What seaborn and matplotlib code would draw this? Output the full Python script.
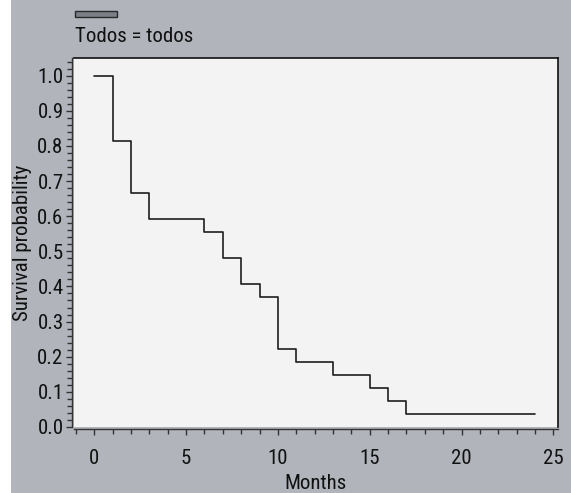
import matplotlib
matplotlib.use('Agg')
import matplotlib.pyplot as plt
import matplotlib.font_manager as fm
import seaborn as sns
import pandas as pd
from matplotlib.patches import Rectangle
from matplotlib.ticker import MultipleLocator

# Kaplan-Meier estimate
months = [0, 1, 2, 3, 6, 7, 8, 9, 10, 11, 13, 15, 16, 17, 24]
survival = [1.0, 0.815, 0.667, 0.593, 0.556, 0.481, 0.407, 0.370,
            0.222, 0.185, 0.148, 0.111, 0.074, 0.037, 0.037]
group_label = 'Todos = todos'
x_ticks = [0, 5, 10, 15, 20, 25]
y_ticks = [0.0, 0.1, 0.2, 0.3, 0.4, 0.5, 0.6, 0.7, 0.8, 0.9, 1.0]

sns.set_theme(style='ticks')

# the reference uses a narrow sans; take a condensed face if one is installed
narrow = None
for want in ['Liberation Sans Narrow', 'Roboto Condensed', 'Open Sans Condensed',
             'Noto Sans', 'DejaVu Sans', 'Roboto', 'Open Sans']:
    for f in fm.fontManager.ttflist:
        if f.name != want or f.style != 'normal' or f.weight not in (400, 'normal', 'regular'):
            continue
        if 'Narrow' in f.name or 'Condensed' in f.name or f.stretch in ('condensed', 'semi-condensed'):
            narrow = f
            break
    if narrow:
        break

if narrow:
    plt.rcParams['font.family'] = [narrow.name, 'DejaVu Sans']
    plt.rcParams['font.stretch'] = narrow.stretch
    fs = 15
else:
    plt.rcParams['font.family'] = ['Liberation Sans', 'DejaVu Sans']
    fs = 12.5

bg = '#b1b4bb'
km_df = pd.DataFrame({'Months': months, 'Survival probability': survival})

fig = plt.figure(figsize=(5.71, 4.93), dpi=100, facecolor=bg)
ax = fig.add_axes([74 / 571, 66 / 493, 484 / 571, 369 / 493])
ax.set_facecolor('#f3f3f3')

sns.lineplot(data=km_df, x='Months', y='Survival probability', ax=ax,
             drawstyle='steps-post', color='#1e1e1e', linewidth=1.2,
             estimator=None)

ax.set_xlim(-1.1, 25.25)
ax.set_ylim(0, 1.05)
ax.set_xticks(x_ticks)
ax.set_yticks(y_ticks)
ax.set_yticklabels([f'{v:.1f}' for v in y_ticks])
ax.xaxis.set_minor_locator(MultipleLocator(1))
ax.yaxis.set_minor_locator(MultipleLocator(0.02))
ax.tick_params(which='major', direction='out', length=4, width=1, colors='#333333',
               labelcolor='#111111', labelsize=fs)
ax.tick_params(axis='x', which='major', pad=10)
ax.tick_params(axis='y', which='major', pad=2)
ax.tick_params(which='minor', direction='out', length=3.5, width=1, colors='#333333')

for side in ['left', 'bottom']:
    ax.spines[side].set_position(('outward', 1.5))
    ax.spines[side].set_color('#333333')
    ax.spines[side].set_linewidth(1)
for side in ['top', 'right']:
    ax.spines[side].set_visible(True)
    ax.spines[side].set_color('#111111')
    ax.spines[side].set_linewidth(1.2)

ax.set_xlabel('Months', fontsize=fs, color='#111111', labelpad=5)
ax.set_ylabel('Survival probability', fontsize=fs, color='#111111', labelpad=4)

# legend drawn above the plot: swatch on top, label underneath
fig.patches.append(Rectangle((75 / 571, 1 - 17 / 493), 42 / 571, 6 / 493,
                             transform=fig.transFigure, facecolor='#7c7f86',
                             edgecolor='#2a2a2a', linewidth=1))
fig.text(75 / 571, 1 - 37 / 493, group_label, ha='left', va='center',
         fontsize=fs, color='#111111')

# white strip along the left border of the reference
fig.patches.append(Rectangle((0, 0), 11 / 571, 1, transform=fig.transFigure,
                             facecolor='white', edgecolor='none'))

fig.savefig('out.png', dpi=100, facecolor=bg)
